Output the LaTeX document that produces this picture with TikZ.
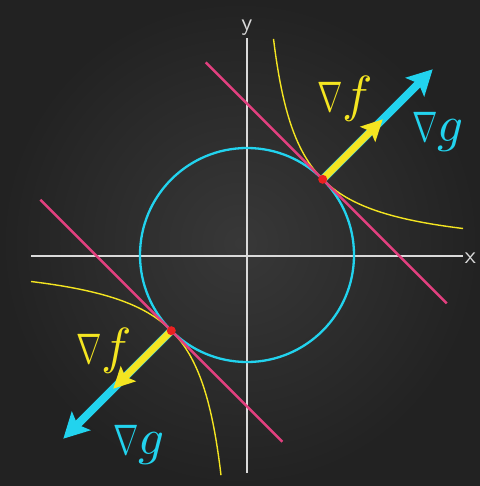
\documentclass[tikz,border=0pt]{standalone}
\usetikzlibrary{arrows.meta}
\definecolor{boardin}{HTML}{383838}
\definecolor{boardout}{HTML}{222222}
\definecolor{cyanc}{HTML}{22D3EE}
\definecolor{yel}{HTML}{F4E521}
\definecolor{mag}{HTML}{E2407F}
\definecolor{redd}{HTML}{EA2020}
\definecolor{axisc}{HTML}{DADADA}
\newcommand\nab{\mathord{\scalebox{0.6}[0.84]{$\nabla$}}}
\begin{document}
\begin{tikzpicture}[x=1bp,y=-1bp,
  axis/.style={draw=axisc, line width=1.6bp},
  axlabel/.style={text=axisc, font=\sffamily, scale=2.4, inner sep=0pt},
  circ/.style={draw=cyanc, line width=2.3bp},
  hyp/.style={draw=yel, line width=1.4bp},
  tang/.style={draw=mag, line width=2.6bp},
  garrow/.style={draw=cyanc, line width=8bp, -{Stealth[length=25bp,width=26bp,inset=5bp]}},
  farrow/.style={draw=yel, line width=7bp, -{Stealth[length=21bp,width=21bp,inset=4bp]}},
  dot/.style={fill=redd, circle, inner sep=0pt, minimum size=9bp},
  flab/.style={text=yel, scale=5.1, inner sep=0pt, anchor=base west},
  glab/.style={text=cyanc, scale=5.1, inner sep=0pt, anchor=base west}]
\useasboundingbox (0,0) rectangle (480,486);
\shade[inner color=boardin, outer color=boardout] (0,0) rectangle (480,486);
% axes
\coordinate (O) at (247,255);
\coordinate (xL) at (31,256);
\coordinate (xR) at (463,256);
\coordinate (yT) at (247,38);
\coordinate (yB) at (247,473);
\draw[axis] (xL) -- (xR);
\draw[axis] (yB) -- (yT);
\node[axlabel, anchor=base] (xl) at (470.5,263) {x};
\node[axlabel, anchor=base] (yl) at (247,31) {y};
% circle
\draw[circ] (O) circle (107);
% hyperbolas
\draw[hyp] plot[domain=26.5:216, samples=150] ({247+\x},{255-5725/\x});
\draw[hyp] plot[domain=26:216, samples=150] ({247-\x},{255+5725/\x});
% tangent points
\coordinate (P1) at (322.7,179.3);
\coordinate (P2) at (171.3,330.7);
% tangent lines
\coordinate (T1a) at (205.7,62.3);
\coordinate (T1b) at (446.7,303.3);
\coordinate (T2a) at (40.3,199.7);
\coordinate (T2b) at (282.3,441.7);
\draw[tang] (T1a) -- (T1b);
\draw[tang] (T2a) -- (T2b);
% gradient arrows
\coordinate (G1) at (432.7,69.3);
\coordinate (F1) at (382.7,119.3);
\coordinate (G2) at (63.3,438.7);
\coordinate (F2) at (113.3,388.7);
\draw[garrow] (P1) -- (G1);
\draw[farrow] (P1) -- (F1);
\draw[garrow] (P2) -- (G2);
\draw[farrow] (P2) -- (F2);
\node[dot] (d1) at (P1) {};
\node[dot] (d2) at (P2) {};
% labels
\node[flab] (nf1) at (316,112) {$\nab f$};
\node[glab] (ng1) at (411,142) {$\nab g$};
\node[flab] (nf2) at (75,363) {$\nab f$};
\node[glab] (ng2) at (112,454) {$\nab g$};
\end{tikzpicture}
\end{document}
